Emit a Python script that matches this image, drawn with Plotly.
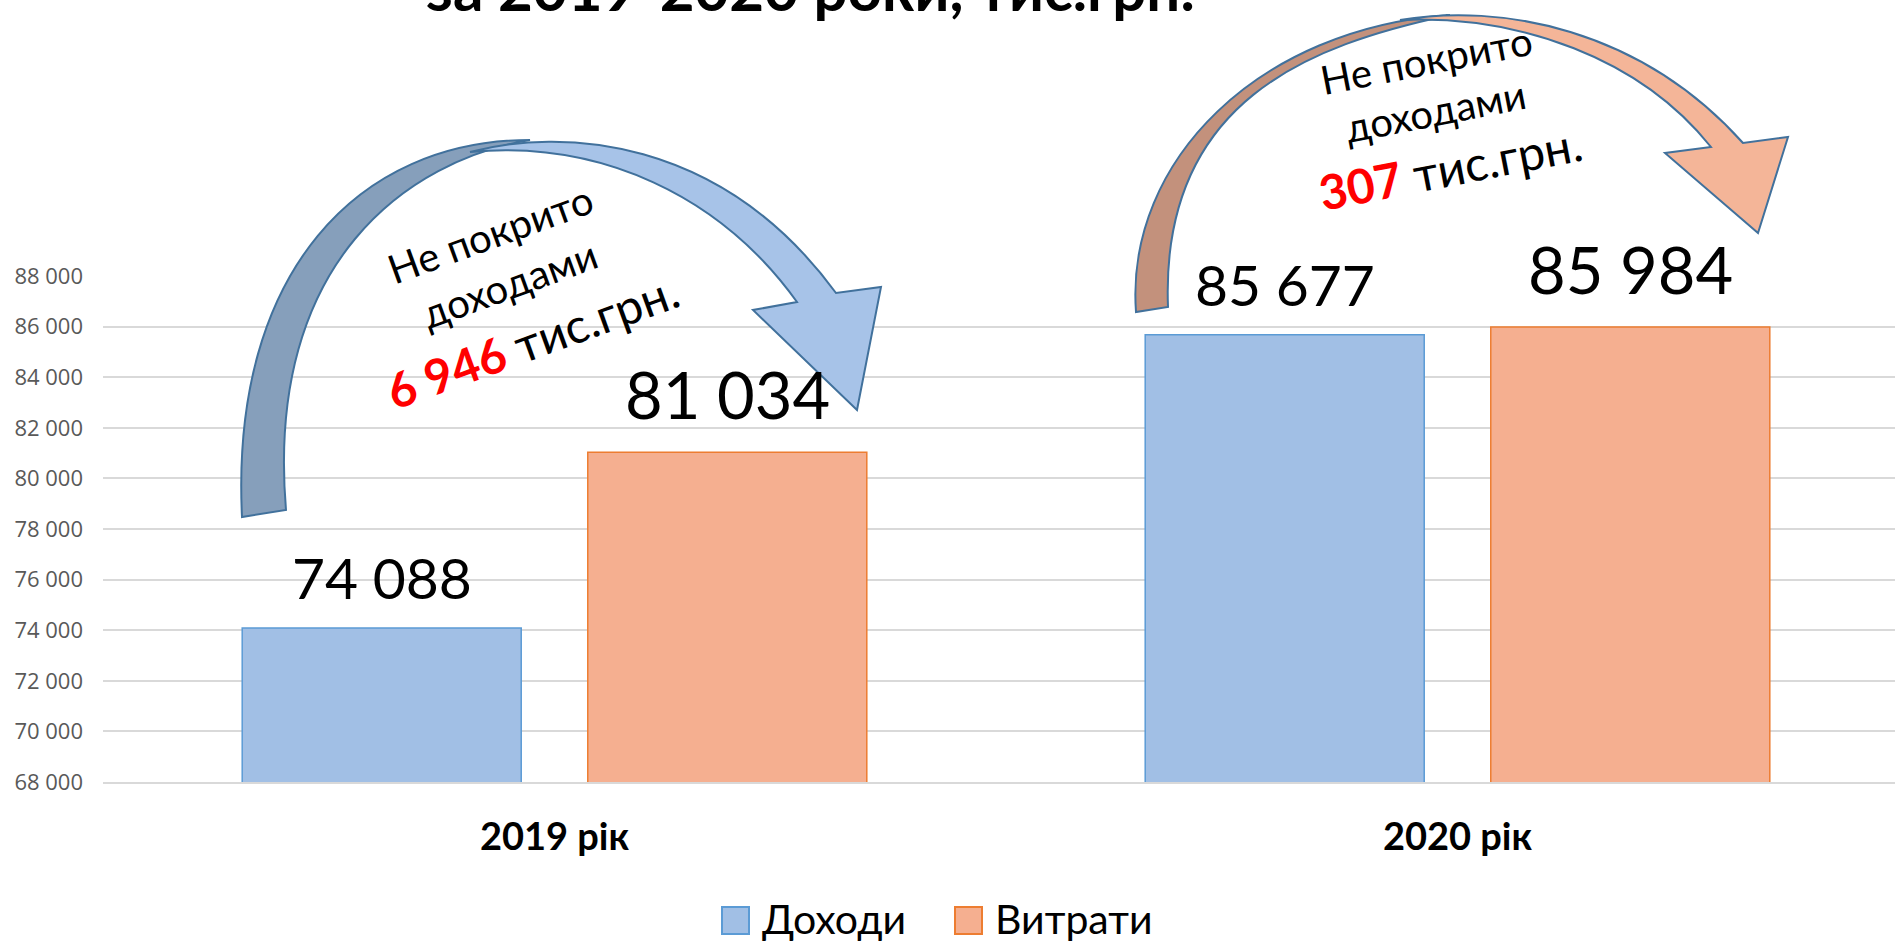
"""Income vs expenses for 2019-2020, bars with curved 'not covered' arrows."""
import plotly.graph_objects as go

CATEGORIES = ["2019 рік", "2020 рік"]
INCOME = [74088, 85677]
EXPENSES = [81034, 85984]
UNCOVERED = [6946, 307]
SERIES_NAMES = ["Доходи", "Витрати"]
TITLE_LINE = "за 2019-2020 роки, тис.грн."
NOTE_LINES = ["Не покрито", "доходами", "тис.грн."]

FIG_W, FIG_H = 1895, 942
M_L, M_R, M_T, M_B = 103, 0, 276, 160
PW = FIG_W - M_L - M_R
PH = FIG_H - M_T - M_B

BAR_W = 0.309
BAR_GAP = 0.0737

BLUE_FILL, BLUE_LINE = "#A1BFE5", "#5B9BD5"
ORANGE_FILL, ORANGE_LINE = "#F5AF90", "#ED7D31"
FONT = "Lato, 'Open Sans', sans-serif"


def px(x):
    return (x - M_L) / PW


def py(y):
    return (FIG_H - M_B - y) / PH


def to_path(cmds):
    parts = []
    for cmd, *pts in cmds:
        parts.append(cmd + " " + " ".join(f"{px(x):.5f},{py(y):.5f}" for x, y in pts))
    return " ".join(parts) + " Z"


def fmt(v):
    return f"{v:,}".replace(",", " ")


fig = go.Figure()
fig.add_trace(go.Bar(
    x=[0, 1], y=INCOME, name=SERIES_NAMES[0],
    width=BAR_W, offset=-(BAR_W + BAR_GAP / 2),
    marker=dict(color=BLUE_FILL, line=dict(color=BLUE_LINE, width=1.5)),
))
fig.add_trace(go.Bar(
    x=[0, 1], y=EXPENSES, name=SERIES_NAMES[1],
    width=BAR_W, offset=BAR_GAP / 2,
    marker=dict(color=ORANGE_FILL, line=dict(color=ORANGE_LINE, width=1.5)),
))

annotations = []
# value labels above bars
for i, v in enumerate(INCOME):
    annotations.append(dict(
        x=i - BAR_GAP / 2 - BAR_W / 2, y=v, xref="x", yref="y", text=fmt(v),
        showarrow=False, xanchor="center", yanchor="bottom", yshift=15,
        font=dict(family=FONT, size=57, color="black"),
    ))
for i, v in enumerate(EXPENSES):
    annotations.append(dict(
        x=i + BAR_GAP / 2 + BAR_W / 2, y=v, xref="x", yref="y", text=fmt(v),
        showarrow=False, xanchor="center", yanchor="bottom", yshift=17,
        font=dict(family=FONT, size=65, color="black"),
    ))

# title (only the lower line shows in the frame)
annotations.append(dict(
    x=px(810), y=py(26), xref="paper", yref="paper", text=TITLE_LINE,
    showarrow=False, xanchor="center", yanchor="bottom",
    font=dict(family=FONT, size=60, color="black", weight="bold"),
))

# curved arrows
arrows = [
    dict(  # 2019
        dark=[("M", (242, 517)), ("C", (230, 270), (360, 140), (530, 140)),
              ("C", (410, 160), (265, 260), (286, 510))],
        light=[("M", (470, 152)), ("C", (560, 128), (720, 135), (836, 293)),
               ("L", (881, 287)), ("L", (857, 410)), ("L", (753, 310)), ("L", (797, 302)),
               ("C", (720, 195), (600, 140), (470, 152))],
        dark_color="#869FBB", light_color="#A7C3E8",
        text_pos=[(490, 234), (509, 284), (532, 340)], angle=-20,
    ),
    dict(  # 2020
        dark=[("M", (1136, 312)), ("C", (1125, 160), (1260, 28), (1450, 15)),
              ("C", (1310, 45), (1160, 100), (1168, 307))],
        light=[("M", (1400, 20)), ("C", (1500, 3), (1640, 28), (1743, 143)),
               ("L", (1788, 137)), ("L", (1758, 233)), ("L", (1665, 153)), ("L", (1711, 147)),
               ("C", (1640, 58), (1520, 15), (1400, 20))],
        dark_color="#C3917C", light_color="#F4B598",
        text_pos=[(1426, 60), (1435, 111), (1450, 168)], angle=-11,
    ),
]

shapes = []
for k, arr in enumerate(arrows):
    for part, color in (("dark", arr["dark_color"]), ("light", arr["light_color"])):
        shapes.append(dict(
            type="path", xref="paper", yref="paper", path=to_path(arr[part]),
            fillcolor=color, line=dict(color="#41719C", width=2), layer="above",
        ))
    lines = [NOTE_LINES[0], NOTE_LINES[1],
             f"<b><span style='color:#FF0000'>{fmt(UNCOVERED[k])}</span></b> {NOTE_LINES[2]}"]
    sizes = [40, 40, 48]
    for (tx, ty), line, size in zip(arr["text_pos"], lines, sizes):
        annotations.append(dict(
            x=px(tx), y=py(ty), xref="paper", yref="paper", text=line,
            showarrow=False, textangle=arr["angle"], xanchor="center", yanchor="middle",
            font=dict(family=FONT, size=size, color="black"),
        ))

# legend drawn by hand so the swatches can be large
legend_items = [(722, SERIES_NAMES[0], BLUE_FILL, BLUE_LINE),
                (955, SERIES_NAMES[1], ORANGE_FILL, ORANGE_LINE)]
for x0, name, fill, edge in legend_items:
    shapes.append(dict(
        type="rect", xref="paper", yref="paper",
        x0=px(x0), x1=px(x0 + 27), y0=py(934), y1=py(907),
        fillcolor=fill, line=dict(color=edge, width=2),
    ))
    annotations.append(dict(
        x=px(x0 + 38), y=py(918), xref="paper", yref="paper", text=name,
        showarrow=False, xanchor="left", yanchor="middle",
        font=dict(family=FONT, size=41, color="black"),
    ))

fig.update_layout(
    width=FIG_W, height=FIG_H,
    margin=dict(l=M_L, r=M_R, t=M_T, b=M_B),
    paper_bgcolor="white", plot_bgcolor="white",
    barmode="overlay", showlegend=False,
    separators=". ",
    xaxis=dict(
        range=[-0.5, 1.4845], tickvals=[0, 1], ticktext=CATEGORIES,
        showgrid=False, zeroline=False, showline=True, linecolor="#D9D9D9", linewidth=1.5,
        tickfont=dict(family=FONT, size=38, color="black", weight="bold"),
        ticklabelstandoff=21,
    ),
    yaxis=dict(
        range=[68000, 88000], dtick=2000, tickformat=",d",
        showgrid=True, gridcolor="#D9D9D9", gridwidth=1.5, zeroline=False,
        tickfont=dict(family="'Open Sans', sans-serif", size=22, color="#595959"),
        ticklabelstandoff=19,
    ),
    annotations=annotations,
    shapes=shapes,
)

# drop the default body margin so the figure sits flush in the window
fig.write_html("out.html", config={"displayModeBar": False},
               post_script="document.body.style.margin='0';")
